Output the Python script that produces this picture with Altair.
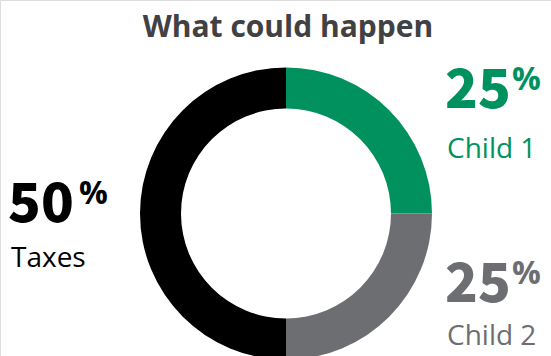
import altair as alt
import pandas as pd

# ---- data ----
categories = ["Child 1", "Child 2", "Taxes"]
shares = [25, 25, 50]
colors = ["#00915F", "#6D6E71", "#000000"]
pct_labels = ["25", "25", "50"]
title_text = "What could happen"

df = pd.DataFrame({"category": categories, "share": shares, "order": [0, 1, 2]})

W, H = 551, 356

donut = alt.Chart(df).mark_arc(outerRadius=146, innerRadius=105, stroke=None).encode(
    theta=alt.Theta("share:Q", stack=True),
    order=alt.Order("order:Q"),
    color=alt.Color("category:N", scale=alt.Scale(domain=categories, range=colors), legend=None),
    x=alt.value(286),
    y=alt.value(213.5),
)

# label placement (pixel anchors for annotations)
num_pos = {"Child 1": (445, 108), "Child 2": (445, 302), "Taxes": (8, 222)}
pctsign_pos = {"Child 1": (512, 90), "Child 2": (512, 284), "Taxes": (79, 204)}
name_pos = {"Child 1": (447, 158), "Child 2": (447, 345), "Taxes": (11, 267)}

layers = [donut]
for cat, col, num in zip(categories, colors, pct_labels):
    d = pd.DataFrame({"t": [num], "p": ["%"], "n": [cat]})
    base = alt.Chart(d)
    nx, ny = num_pos[cat]
    layers.append(base.mark_text(font="Noto Sans CJK JP", fontWeight=900, fontSize=54, align="left",
                                 baseline="alphabetic", color=col).encode(
        text="t:N", x=alt.value(nx), y=alt.value(ny)))
    px, py = pctsign_pos[cat]
    layers.append(base.mark_text(font="Open Sans", fontWeight=700, fontSize=32, align="left",
                                 baseline="alphabetic", color=col).encode(
        text="p:N", x=alt.value(px), y=alt.value(py)))
    mx, my = name_pos[cat]
    layers.append(base.mark_text(font="Open Sans", fontWeight=400, fontSize=28, align="left",
                                 baseline="alphabetic", color=col).encode(
        text="n:N", x=alt.value(mx), y=alt.value(my)))

tdf = pd.DataFrame({"t": [title_text]})
layers.append(alt.Chart(tdf).mark_text(font="Open Sans", fontWeight=700, fontSize=30, align="center",
                                       baseline="alphabetic", color="#414042").encode(
    text="t:N", x=alt.value(288), y=alt.value(37)))

chart = alt.layer(*layers).properties(
    width=W, height=H, padding=0, autosize=alt.AutoSizeParams(type="none")
).configure_view(stroke=None).configure(background="white")

chart.save("out.html", embed_options={"renderer": "svg", "actions": False})
